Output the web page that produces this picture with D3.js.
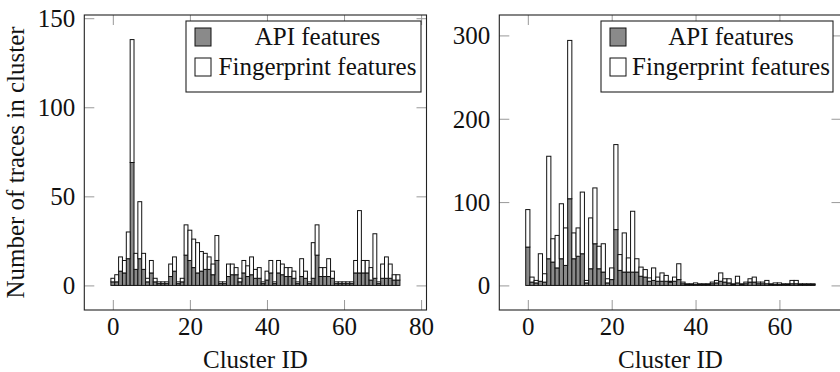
<!DOCTYPE html>
<html><head><meta charset="utf-8">
<script src="https://cdn.jsdelivr.net/npm/d3@7"></script>
<style>body{margin:0;background:#fff}svg text{font-family:"Liberation Serif","Times New Roman",serif;fill:#111}</style>
</head><body><svg id="c" width="840" height="372"></svg>
<script>
// ---- data ----
const leftIds = d3.range(0, 75);
const leftAPI = [2,2,8,7,15,69,9,15,9,2, 7,2,1,1,1,5,8,1,2,17, 14,10,7,8,9,9,6,14,1,1, 5,6,6,2,7,5,6,4,4,1, 3,7,1,7,6,5,5,4,1,5, 4,1,4,17,5,5,5,4,1,1, 1,1,1,7,7,7,7,3,4,1, 4,4,4,3,3];
const leftFingerprint = [2,4,8,7,15,69,9,32,9,2, 7,2,1,1,1,7,8,1,2,17, 17,16,17,11,9,7,6,14,1,1, 7,6,4,2,7,6,10,5,6,1, 5,7,1,7,6,5,5,4,1,10, 4,1,20,17,5,5,10,4,1,1, 1,1,1,7,35,7,7,7,25,1, 8,12,8,3,3];
const rightIds = d3.range(0, 69);
const rightAPI = [46,4,3,5,4,32,28,21,32,24, 104,32,35,38,3,20,50,20,16,3, 7,67,18,16,16,16,16,11,10,5, 6,5,5,5,4,5,7,2,1,1, 1,1,1,1,2,3,5,4,3,1, 3,1,2,4,4,2,2,2,1,1, 1,1,1,2,2,1,1,1,1];
const rightFingerprint = [45,6,3,33,10,123,28,39,66,45, 190,31,34,74,3,61,67,27,34,5, 14,102,19,47,17,73,16,11,9,4, 15,5,10,7,1,5,19,2,1,1, 2,1,1,1,2,3,10,4,5,1, 8,1,2,4,6,2,2,4,1,2, 2,1,1,4,4,1,1,1,1];
const leftXTicks = [0, 20, 40, 60, 80];
const leftYTicks = [0, 50, 100, 150];
const rightXTicks = [0, 20, 40, 60];
const rightYTicks = [0, 100, 200, 300];
const seriesNames = ["API features", "Fingerprint features"];
const xLabel = "Cluster ID";
const yLabel = "Number of traces in cluster";

const svg = d3.select("#c");
const FS = 25;
const colors = ["#8a8a8a", "#ffffff"];

function panel(o) {
  const g = svg.append("g");
  const x = d3.scaleLinear().domain(o.xDomain).range([o.left, o.right]);
  const y = d3.scaleLinear().domain(o.yDomain).range([o.bottom, o.top]);
  const bw = x(1) - x(0);
  const rows = o.ids.map((id, i) => ({id, api: o.api[i], fp: o.fp[i]}));
  const stack = d3.stack().keys(["api", "fp"])(rows);
  const tk = 10, tc = "#999";
  const axB = g.append("g").attr("transform", `translate(0,${o.bottom})`)
    .call(d3.axisBottom(x).tickValues(o.xTicks).tickSize(-tk).tickSizeOuter(0).tickFormat(d3.format("d")));
  const axT = g.append("g").attr("transform", `translate(0,${o.top})`)
    .call(d3.axisTop(x).tickValues(o.xTicks).tickSize(-tk).tickSizeOuter(0).tickFormat(""));
  const axL = g.append("g").attr("transform", `translate(${o.left},0)`)
    .call(d3.axisLeft(y).tickValues(o.yTicks).tickSize(-tk).tickSizeOuter(0).tickFormat(d3.format("d")));
  const axR = g.append("g").attr("transform", `translate(${o.right},0)`)
    .call(d3.axisRight(y).tickValues(o.yTicks).tickSize(-tk).tickSizeOuter(0).tickFormat(""));
  [axB, axT, axL, axR].forEach(a => {
    a.select(".domain").remove();
    a.selectAll(".tick line").attr("stroke", tc).attr("stroke-width", 1);
    a.selectAll("text").attr("font-size", FS).attr("font-family", "Liberation Serif").attr("fill", "#111");
  });
  axB.selectAll(".tick text").attr("dy", null).attr("y", 25);
  axL.selectAll(".tick text").attr("dy", null).attr("x", -9).attr("y", 8.3);
  stack.forEach((s, k) => {
    g.append("g").selectAll("rect").data(s).join("rect")
      .attr("x", d => x(d.data.id) - bw / 2)
      .attr("width", bw)
      .attr("y", d => y(d[1]))
      .attr("height", d => y(d[0]) - y(d[1]))
      .attr("fill", colors[k]).attr("stroke", "#111").attr("stroke-width", 1);
  });
  g.append("rect").attr("x", o.left).attr("y", o.top).attr("width", o.right - o.left).attr("height", o.bottom - o.top)
    .attr("fill", "none").attr("stroke", "#222").attr("stroke-width", 1.1);
  g.append("text").attr("x", (o.left + o.right) / 2).attr("y", 368).attr("text-anchor", "middle")
    .attr("font-size", FS).text(xLabel);
  const L = o.legend;
  const lg = g.append("g");
  lg.append("rect").attr("x", L.x).attr("y", L.y).attr("width", L.w).attr("height", L.h)
    .attr("fill", "#fff").attr("stroke", "#222").attr("stroke-width", 1.1);
  seriesNames.forEach((nm, k) => {
    lg.append("rect").attr("x", L.x + 9).attr("y", L.y + 7 + k * 30).attr("width", 16).attr("height", 18)
      .attr("fill", colors[k]).attr("stroke", "#111").attr("stroke-width", 1);
    lg.append("text").attr("x", L.x + 29 + (L.w - 30) / 2).attr("y", L.y + 24 + k * 30)
      .attr("text-anchor", "middle").attr("font-size", FS).text(nm);
  });
}

panel({ids: leftIds, api: leftAPI, fp: leftFingerprint, xDomain: [-7.4, 81.4], yDomain: [-13.8, 151.8],
  left: 84.3, right: 426.5, top: 15, bottom: 310, xTicks: leftXTicks, yTicks: leftYTicks,
  legend: {x: 186, y: 21, w: 235, h: 71}});
panel({ids: rightIds, api: rightAPI, fp: rightFingerprint, xDomain: [-6.8, 74.8], yDomain: [-29.5, 324.5],
  left: 499.3, right: 841.5, top: 15, bottom: 310, xTicks: rightXTicks, yTicks: rightYTicks,
  legend: {x: 601, y: 21, w: 232, h: 71}});

svg.append("text").attr("transform", "translate(24,162.5) rotate(-90)").attr("text-anchor", "middle")
  .attr("font-size", FS).text(yLabel);
</script></body></html>
